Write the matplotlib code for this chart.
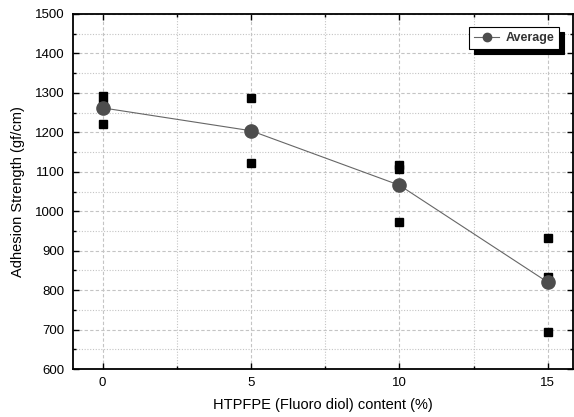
import matplotlib
matplotlib.use("Agg")
import matplotlib.pyplot as plt
from matplotlib.ticker import MultipleLocator

plt.rcParams.update({
    "font.family": "Liberation Sans",
    "font.size": 9.5,
})

# raw measurements (three per content level) and their means
content = [0, 5, 10, 15]
rep1 = [1293, 1287, 1117, 932]
rep2 = [1273, 1203, 1108, 834]
rep3 = [1220, 1122, 972, 695]
average = [1262, 1204, 1066, 820]

fig = plt.figure(figsize=(5.74, 4.17), dpi=100)
ax = fig.add_axes([73 / 574, 48 / 417, 500 / 574, 355 / 417])

for rep in (rep1, rep2, rep3):
    ax.plot(content, rep, linestyle="none", marker="s", markersize=5.5,
            color="black", zorder=3)
ax.plot(content, average, "-o", color="#666666", linewidth=0.8,
        markersize=9.5, markerfacecolor="#4d4d4d", markeredgecolor="#4d4d4d",
        label="Average", zorder=4)

ax.set_xlim(-1, 15.85)
ax.set_ylim(600, 1500)
ax.xaxis.set_major_locator(MultipleLocator(5))
ax.xaxis.set_minor_locator(MultipleLocator(2.5))
ax.yaxis.set_major_locator(MultipleLocator(100))
ax.yaxis.set_minor_locator(MultipleLocator(50))

ax.grid(which="major", color="#c4c4c4", linestyle=(0, (3, 2)), linewidth=0.8)
ax.grid(which="minor", color="#c4c4c4", linestyle=(0, (1, 1.5)), linewidth=0.8)
ax.set_axisbelow(True)

ax.tick_params(which="both", direction="in", top=True, right=True)
ax.tick_params(which="major", length=4, width=1, pad=6)
ax.tick_params(which="minor", length=2.5, width=1)
for side in ax.spines.values():
    side.set_linewidth(1.3)

ax.set_xlabel("HTPFPE (Fluoro diol) content (%)", fontsize=10.5, labelpad=6)
ax.set_ylabel("Adhesion Strength (gf/cm)", fontsize=10.5, labelpad=7)

leg = ax.legend(loc="upper right", bbox_to_anchor=(0.985, 0.98), fancybox=False,
                edgecolor="black", framealpha=1, handlelength=2.0,
                shadow={"color": "black", "alpha": 1, "ox": 3.5, "oy": -3.5},
                prop={"weight": "bold", "size": 9}, borderpad=0.4,
                handletextpad=0.5)
leg.get_frame().set_linewidth(0.8)
leg.legend_handles[0].set_markersize(6)
for t in leg.get_texts():
    t.set_color("#333333")

fig.savefig("out.png", dpi=100)
